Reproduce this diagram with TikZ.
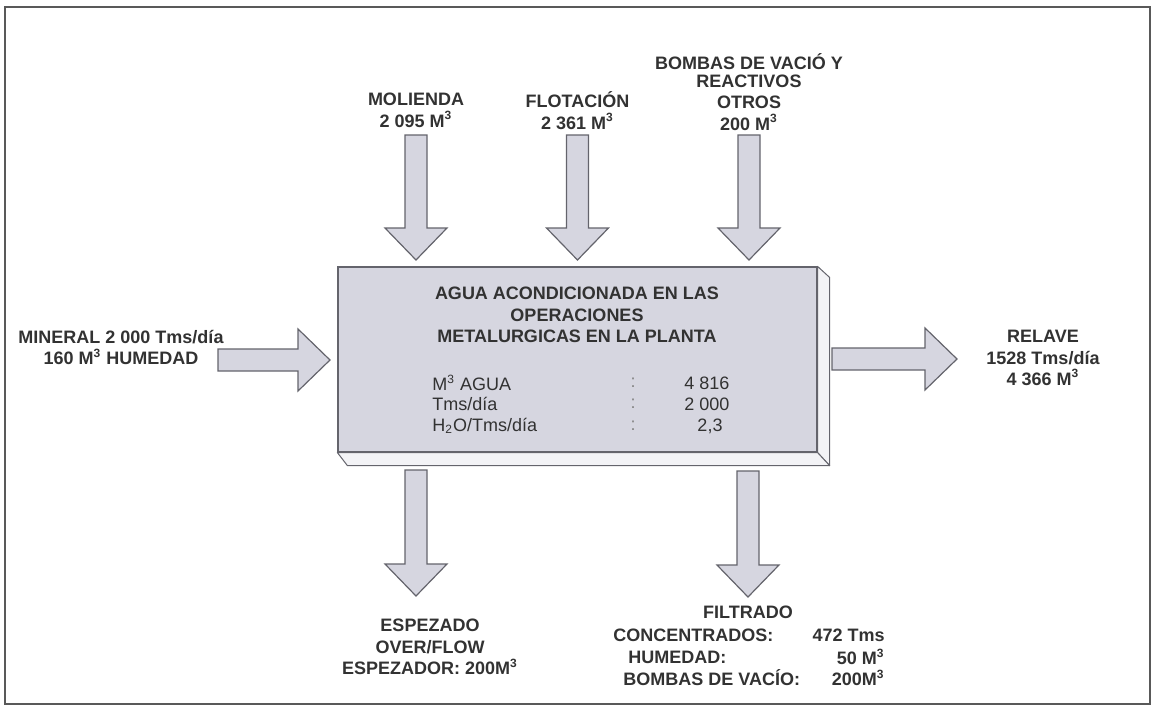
\documentclass[tikz,border=0pt]{standalone}
\usepackage{fontspec}
\setmainfont{Liberation Sans}
\usepackage{tikz}
\usetikzlibrary{positioning,calc}

\definecolor{cajagris}{RGB}{214,214,224}
\definecolor{bordegris}{RGB}{100,100,108}
\definecolor{biselgris}{RGB}{243,243,246}
\definecolor{texto}{RGB}{50,50,50}

\tikzset{
  flecha/.style={draw=bordegris, fill=cajagris, line width=0.6pt, line join=miter,
    to path={let \p1=(\tikztostart), \p2=(\tikztotarget), \p3=($(\p2)!16pt!(\p1)$) in
      ($(\p1)!5.5pt!90:(\p2)$) -- ($(\p3)!5.5pt!90:(\p2)$) -- ($(\p3)!15.5pt!90:(\p2)$)
      -- (\p2) -- ($(\p3)!15.5pt!-90:(\p2)$) -- ($(\p3)!5.5pt!-90:(\p2)$)
      -- ($(\p1)!5.5pt!-90:(\p2)$) -- cycle}},
  etiqueta/.style={text=texto, align=center, font=\fontsize{9}{10.75}\selectfont\bfseries, inner sep=0pt},
  fila/.style={text=texto, font=\fontsize{9}{10.75}\selectfont, inner sep=0pt},
  caja/.style={draw=bordegris, fill=cajagris, line width=0.6pt, minimum width=239.5pt, minimum height=92.5pt, inner sep=0pt},
  bisel/.style={draw=bordegris, fill=biselgris, line width=0.5pt, line join=round},
  marco/.style={draw=gray!70!black, line width=1pt}
}

\begin{document}
\begin{tikzpicture}[x=0.5pt,y=-0.5pt]
\useasboundingbox (0,0) rectangle (1153,707);
\draw[marco] (5,7) rectangle (1150,704);

% Central box
\node[caja] (caja) at (577.5,359.5) {};
\draw[bisel] (caja.north east) -- ++(12,11) -- ($(caja.south east)+(12,13)$) -- (caja.south east) -- cycle;
\draw[bisel] (caja.south west) -- (caja.south east) -- ++(12,13) -- ($(caja.south west)+(10,13)$) -- cycle;

\node[etiqueta] (titulo) at (577,315) {AGUA ACONDICIONADA EN LAS\\OPERACIONES\\METALURGICAS EN LA PLANTA};
\node[fila, anchor=west] (agua) at (432,383) {M\textsuperscript{3} AGUA};
\node[fila, anchor=west] (tms) at (432,404) {Tms/día};
\node[fila, anchor=west] (razon) at (432,426) {H\textsubscript{2}O/Tms/día};
\foreach \nom/\y in {agua/383,tms/404,razon/426}
    \node[fila, text=texto!60] (\nom p) at (633,\y) {:};
\node[fila] (vagua) at (707,383) {4 816};
\node[fila] (vtms) at (707,404) {2 000};
\node[fila] (vrazon) at (710,426) {2,3};

% Inputs on top
\node[etiqueta] (molienda) at (416,110.5) {MOLIENDA\\2 095 M\textsuperscript{3}};
\node[etiqueta] (flotacion) at (577.5,110.5) {FLOTACIÓN\\2 361 M\textsuperscript{3}};
\node[etiqueta] (bombas) at (749,92) {BOMBAS DE VACIÓ Y\\[-1.75pt]REACTIVOS\\OTROS\\200 M\textsuperscript{3}};
\coordinate (mola) at (416,135);
\coordinate (molb) at (416,260);
\draw[flecha] (mola) to (molb);
\coordinate (floa) at (577.5,135);
\coordinate (flob) at (577.5,260);
\draw[flecha] (floa) to (flob);
\coordinate (boma) at (749,135);
\coordinate (bomb) at (749,260);
\draw[flecha] (boma) to (bomb);

% Mineral in, relave out
\node[etiqueta] (mineral) at (121,347.5) {MINERAL 2 000 Tms/día\\160 M\textsuperscript{3} HUMEDAD};
\coordinate (mina) at (218,360);
\coordinate (minb) at (330,360);
\draw[flecha] (mina) to (minb);

\node[etiqueta] (relave) at (1043,358) {RELAVE\\1528 Tms/día\\4 366 M\textsuperscript{3}};
\coordinate (rela) at (832,359);
\coordinate (relb) at (957,359);
\draw[flecha] (rela) to (relb);

% Outputs below
\coordinate (espa) at (416,470);
\coordinate (espb) at (416,596);
\draw[flecha] (espa) to (espb);
\node[etiqueta] (espezado) at (430,647) {ESPEZADO\\OVER/FLOW\\ESPEZADOR: 200M\textsuperscript{3}};

\coordinate (fila) at (748,471);
\coordinate (filb) at (748,597);
\draw[flecha] (fila) to (filb);
\node[etiqueta] (filtrado) at (748,612) {FILTRADO};
\node[etiqueta, anchor=west] (conc) at (613,635) {CONCENTRADOS:};
\node[etiqueta, anchor=west] (hum) at (628,657) {HUMEDAD:};
\node[etiqueta, anchor=west] (bvac) at (623,678) {BOMBAS DE VACÍO:};
\node[etiqueta, anchor=east] (vconc) at (885,635) {472 Tms};
\node[etiqueta, anchor=east] (vhum) at (885,657) {50 M\textsuperscript{3}};
\node[etiqueta, anchor=east] (vbvac) at (885,678) {200M\textsuperscript{3}};
\end{tikzpicture}
\end{document}
